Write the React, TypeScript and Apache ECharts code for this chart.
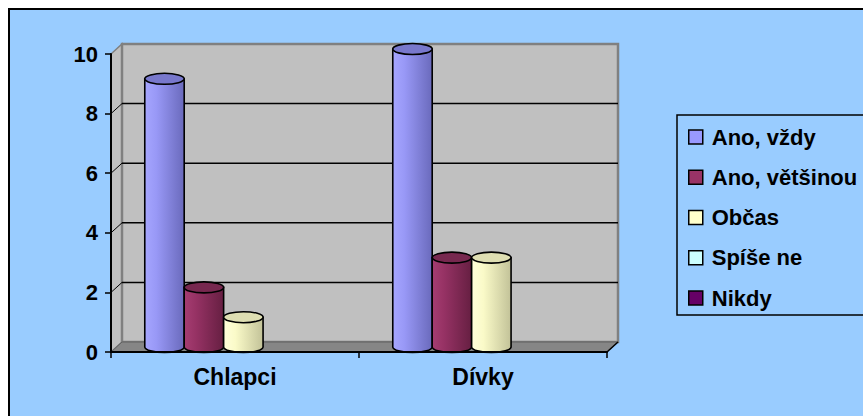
import React, { useEffect, useRef } from "react";
import * as echarts from "echarts";

// ---- data ----
const CATEGORIES = ["Chlapci", "Dívky"];
const SERIES_NAMES = ["Ano, vždy", "Ano, většinou", "Občas", "Spíše ne", "Nikdy"];
const ANO_VZDY = [9, 10];
const ANO_VETSINOU = [2, 3];
const OBCAS = [1, 3];
const SPISE_NE = [0, 0];
const NIKDY = [0, 0];
const Y_MIN = 0;
const Y_MAX = 10;
const Y_INTERVAL = 2;
const GRID_VALUES = [2, 4, 6, 8];

// ---- style ----
const FONT = "'Liberation Sans', Arial, sans-serif";
const DX = 11;
const DY = 10;
const BASE_COLORS = ["#9999FF", "#993366", "#FFFFCC", "#CCFFFF", "#660066"];
const GRADS = [
  ["#A6A6FF", "#9898F6", "#6A6ABC"],
  ["#A63D72", "#963264", "#661F42"],
  ["#FFFFDA", "#FAFAC8", "#C2C298"],
  ["#E6FFFF", "#C8FAFA", "#96C8C8"],
  ["#772277", "#640064", "#400040"],
];
const CAPS = ["#7878CC", "#77284F", "#DEDEB2", "#AADDDD", "#550055"];

const SERIES_VALUES = [ANO_VZDY, ANO_VETSINOU, OBCAS, SPISE_NE, NIKDY];

export default function App() {
  const ref = useRef<HTMLDivElement>(null);
  useEffect(() => {
    const chart = echarts.init(ref.current!, undefined, { renderer: "svg" });

    const wallSeries: any = {
      type: "custom",
      name: "walls",
      silent: true,
      z: 1,
      coordinateSystem: "cartesian2d",
      data: [[0, 0]],
      encode: { x: 0, y: 1 },
      renderItem: (params: any, api: any) => {
        const cs = params.coordSys;
        const x0 = cs.x, y0 = cs.y, x1 = cs.x + cs.width, y1 = cs.y + cs.height;
        const children: any[] = [];
        children.push({
          type: "polygon",
          shape: { points: [[x0, y1], [x0, y0], [x0 + DX, y0 - DY], [x0 + DX, y1 - DY]] },
          style: { fill: "#C0C0C0", stroke: "#808080", lineWidth: 1.5 },
        });
        children.push({
          type: "rect",
          shape: { x: x0 + DX, y: y0 - DY, width: x1 - x0, height: y1 - y0 },
          style: { fill: "#C0C0C0", stroke: "#808080", lineWidth: 2.5 },
        });
        GRID_VALUES.forEach((v) => {
          const yy = api.coord([0, v])[1];
          children.push({
            type: "line",
            shape: { x1: x0 + DX, y1: yy - DY, x2: x1 + DX, y2: yy - DY },
            style: { stroke: "#000", lineWidth: 1.5 },
          });
          children.push({
            type: "line",
            shape: { x1: x0, y1: yy, x2: x0 + DX, y2: yy - DY },
            style: { stroke: "#000", lineWidth: 1 },
          });
        });
        children.push({
          type: "polygon",
          shape: { points: [[x0, y1], [x0 + DX, y1 - DY], [x1 + DX, y1 - DY], [x1, y1]] },
          style: { fill: "#868686", stroke: "#606060", lineWidth: 1 },
        });
        children.push({
          type: "line",
          shape: { x1: x1, y1: y1, x2: x1 + DX, y2: y1 - DY },
          style: { stroke: "#000", lineWidth: 1.5 },
        });
        return { type: "group", children };
      },
    };

    const barSeries = SERIES_NAMES.map((name, s) => ({
      type: "custom",
      name,
      z: 3,
      coordinateSystem: "cartesian2d",
      itemStyle: { color: BASE_COLORS[s] },
      encode: { x: 0, y: 1 },
      data: SERIES_VALUES[s].map((v, i) => [i, v]),
      renderItem: (params: any, api: any) => {
        const ci = api.value(0);
        const v = api.value(1);
        if (!v) return null;
        const W = api.size([1, 0])[0];
        const base = api.coord([ci, 0]);
        const top = api.coord([ci, v]);
        const catStart = base[0] - W / 2;
        const bw = W * 0.159;
        const x = catStart + W * 0.114 + DX / 2 + s * bw;
        const yTop = top[1] - DY / 2;
        const yBot = base[1] - DY / 2;
        const rx = bw / 2;
        const ry = 5.5;
        const g = GRADS[s];
        const fill = new echarts.graphic.LinearGradient(0, 0, 1, 0, [
          { offset: 0, color: g[0] },
          { offset: 0.3, color: g[1] },
          { offset: 1, color: g[2] },
        ]);
        return {
          type: "group",
          children: [
            {
              type: "path",
              shape: {
                pathData: `M${x},${yTop} L${x},${yBot} A${rx},${ry} 0 0 0 ${x + bw},${yBot} L${x + bw},${yTop} Z`,
              },
              style: { fill, stroke: "#000", lineWidth: 1.6 },
            },
            {
              type: "ellipse",
              shape: { cx: x + rx, cy: yTop, rx, ry },
              style: { fill: CAPS[s], stroke: "#000", lineWidth: 1.6 },
            },
          ],
        };
      },
    }));

    chart.setOption({
      animation: false,
      backgroundColor: "#ffffff",
      color: BASE_COLORS,
      graphic: [
        {
          type: "rect",
          z: -10,
          shape: { x: 9, y: 9, width: 1000, height: 1000 },
          style: { fill: "#99CCFF", stroke: "#000", lineWidth: 2 },
        },
        {
          type: "rect",
          z: 0,
          shape: { x: 677, y: 115, width: 300, height: 200 },
          style: { fill: "none", stroke: "#000", lineWidth: 1.5 },
        },
      ],
      grid: { left: 111, top: 54, width: 496, height: 298 },
      legend: {
        data: SERIES_NAMES,
        orient: "vertical",
        left: 688,
        top: 126,
        padding: 0,
        itemWidth: 14,
        itemHeight: 14,
        itemGap: 18.25,
        icon: "rect",
        selectedMode: false,
        itemStyle: { borderColor: "#000", borderWidth: 1.5 },
        textStyle: {
          fontSize: 22,
          fontWeight: "bold",
          fontFamily: FONT,
          color: "#000",
          lineHeight: 22,
          padding: [0, 0, 0, 4],
        },
      },
      xAxis: {
        type: "category",
        data: CATEGORIES,
        z: 5,
        axisLine: { lineStyle: { color: "#000", width: 2 } },
        axisTick: { show: true, length: 6, lineStyle: { color: "#000", width: 1.5 } },
        axisLabel: {
          fontSize: 23,
          fontWeight: "bold",
          fontFamily: FONT,
          color: "#000",
          margin: 13,
        },
        splitLine: { show: false },
      },
      yAxis: {
        type: "value",
        min: Y_MIN,
        max: Y_MAX,
        interval: Y_INTERVAL,
        z: 5,
        axisLine: { show: true, lineStyle: { color: "#000", width: 2 } },
        axisTick: { show: true, length: 6, lineStyle: { color: "#000", width: 1.5 } },
        axisLabel: {
          fontSize: 22,
          fontWeight: "bold",
          fontFamily: FONT,
          color: "#000",
          margin: 13,
        },
        splitLine: { show: false },
      },
      series: [wallSeries, ...barSeries],
    });
    return () => chart.dispose();
  }, []);
  return (
    <div
      ref={ref}
      style={{ position: "fixed", left: 0, top: 0, width: 863, height: 416 }}
    />
  );
}
